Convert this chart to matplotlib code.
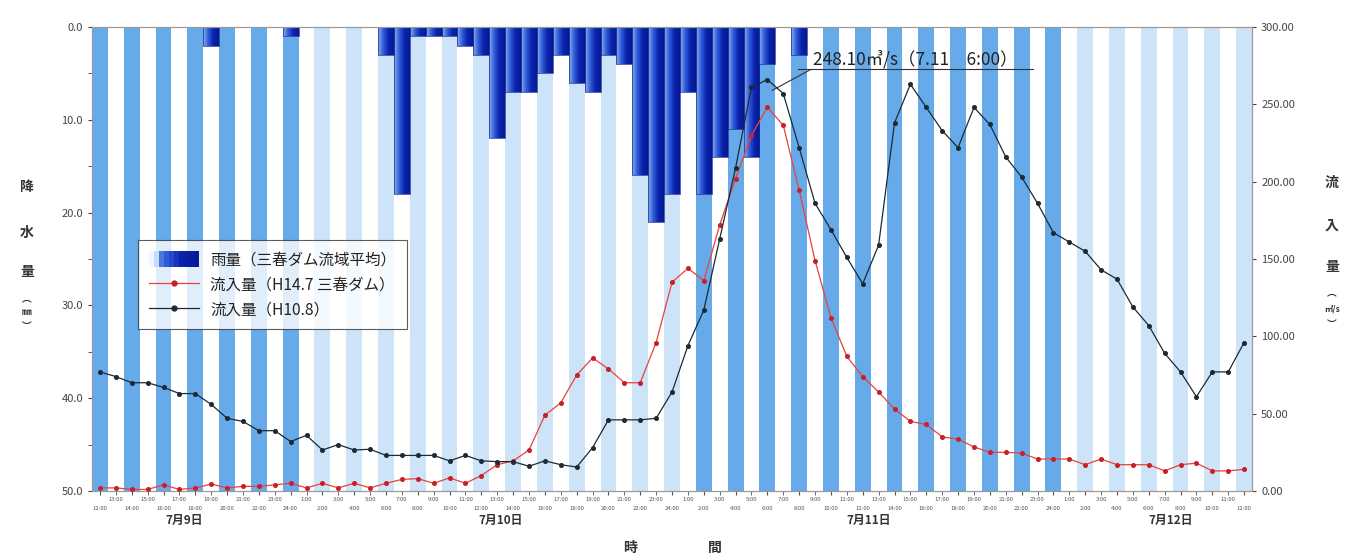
import numpy as np
import matplotlib
matplotlib.use('Agg')
import matplotlib.pyplot as plt
from matplotlib.colors import LinearSegmentedColormap
from matplotlib.patches import Rectangle
from matplotlib.lines import Line2D
from matplotlib.legend_handler import HandlerTuple

plt.rcParams['font.family'] = ['Noto Sans CJK JP', 'DejaVu Sans']

# hourly data, 7/9 12:00 -> 7/12 12:00
hours = np.arange(73)
hour_labels = [f"{(12 + i) % 24 or 24}:00" for i in hours]
day_names = ['7月9日', '7月10日', '7月11日', '7月12日']
day_pos = [5.3, 25.2, 48.4, 67.4]

# rain (mm)
rain = [0, 0, 0, 0, 0, 0, 0, 2, 0, 0, 0, 0, 1, 0, 0, 0, 0, 0, 3, 18,
        1, 1, 1, 2, 3, 12, 7, 7, 5, 3, 6, 7, 3, 4, 16, 21, 18, 7, 18, 14,
        11, 14, 4, 0, 3, 0, 0, 0, 0, 0, 0, 0, 0, 0, 0, 0, 0, 0, 0, 0,
        0, 0, 0, 0, 0, 0, 0, 0, 0, 0, 0, 0, 0]

# inflow H14.7 (m3/s)
inflow_h147 = [2, 2, 1, 1, 4, 1, 2, 4.5, 2, 3, 3, 4, 5, 2, 5, 2, 5, 2, 5, 7.5,
               8, 5, 8.5, 5, 10, 17, 19.5, 26.5, 49, 57, 75, 86, 79, 70, 70, 96, 135, 144, 136, 172,
               202, 230, 248.1, 236.5, 194.5, 149, 112, 87, 74, 64, 53, 45, 43, 35, 33.5, 28.5, 25, 25, 24.5, 20.7,
               20.7, 20.7, 17, 20.7, 17, 17, 17, 13, 17, 18, 13, 13, 14]

# inflow H10.8 (m3/s)
inflow_h108 = [77, 74, 70, 70, 67, 63, 63, 56, 47, 45, 39, 39, 32, 36, 26.5, 30, 26.5, 27, 23, 23,
               23, 23, 19.5, 23, 19.5, 19, 19, 16, 19.5, 17, 15.5, 28, 46, 46, 46, 47, 64, 94, 117, 163,
               209, 261, 266, 257, 222, 186, 169, 151, 134, 159, 238, 263, 248, 233, 222, 248, 237, 216, 203, 186,
               167, 161, 155, 143, 137, 119, 107, 89, 77, 61, 77, 77, 96]

peak_idx = 42
peak_text = '248.10㎥/s（7.11　6:00）'

mid_blue = '#66aaea'
light_blue = '#cde3f7'

fig = plt.figure(figsize=(13.45, 5.56), dpi=100)
ax = fig.add_axes([0.0684, 0.1169, 0.8625, 0.8345])

# background stripes (every other hour, shade by day)
stripe_x = hours[::2]
stripe_col = [mid_blue if (i <= 12 or 37 <= i <= 60) else light_blue for i in stripe_x]
ax.bar(stripe_x, 50, width=1.0, color=stripe_col, linewidth=0, zorder=0)

# rain bars with horizontal gradient
cmap = LinearSegmentedColormap.from_list('rain', ['#86aef0', '#2f5bd6', '#0a22ad', '#061a96'])
bars = ax.bar(hours, rain, width=1.0, facecolor='none', edgecolor='#1a2a8c', linewidth=0.5, zorder=3)
grad = np.linspace(0, 1, 32).reshape(1, -1)
for b in bars:
    h = b.get_height()
    if h <= 0:
        continue
    x0 = b.get_x()
    ax.imshow(grad, cmap=cmap, extent=[x0, x0 + b.get_width(), h, 0],
              aspect='auto', interpolation='bicubic', zorder=2)

ax.set_xlim(-0.5, 72.5)
ax.set_ylim(50, 0)
ax.set_yticks(np.arange(0, 51, 10), [f"{v:.1f}" for v in np.arange(0, 51, 10)])
ax.set_yticks(np.arange(5, 50, 10), minor=True)
ax.tick_params(axis='y', which='both', labelsize=8, colors='#444', length=3)

ax.set_xticks(hours[::2], [hour_labels[i] for i in hours[::2]])
ax.set_xticks(hours[1::2], [hour_labels[i] for i in hours[1::2]], minor=True)
ax.tick_params(axis='x', which='major', labelsize=4.3, pad=8, length=3, colors='#555')
ax.tick_params(axis='x', which='minor', labelsize=4.3, pad=1.5, length=3, colors='#555')

for s in ax.spines.values():
    s.set_color('#9a9a9a')
    s.set_linewidth(0.8)

for name, p in zip(day_names, day_pos):
    ax.text(p, -0.064, name, transform=ax.get_xaxis_transform(), ha='center', va='center',
            fontsize=8.5, color='#333', fontweight='bold')

# inflow lines
ax2 = ax.twinx()
ax2.plot(hours, inflow_h147, color='#e8423a', lw=0.9, marker='o', ms=2.6,
         mfc='#c8202a', mec='#c8202a', zorder=4)
ax2.plot(hours, inflow_h108, color='#1d2a33', lw=0.9, marker='o', ms=2.6,
         mfc='#1d2a33', mec='#1d2a33', zorder=4)
ax2.set_ylim(0, 300)
ax2.set_yticks(np.arange(0, 301, 50), [f"{v:.2f}" for v in np.arange(0, 301, 50)])
ax2.tick_params(axis='y', labelsize=8, colors='#444', length=3)
for s in ax2.spines.values():
    s.set_color('#9a9a9a')
    s.set_linewidth(0.8)

# peak annotation
ax2.annotate(peak_text, xy=(peak_idx + 0.3, 259), xytext=(44.9, 273.5),
             fontsize=12.5, color='#222', va='bottom', ha='left',
             arrowprops=dict(arrowstyle='-', color='#333', lw=0.8, shrinkA=0, shrinkB=0,
                             relpos=(0, 0)))
ax2.plot([43.9, 58.7], [273, 273], color='#333', lw=0.8)

# legend
grad_cols = cmap(np.linspace(0, 1, 10))
grad_cols[0] = (0.93, 0.96, 1.0, 1.0)
grad_cols[1] = (0.78, 0.86, 0.98, 1.0)
rain_handle = tuple(Rectangle((0, 0), 1, 1, facecolor=c, edgecolor='none') for c in grad_cols)
red_handle = Line2D([], [], color='#e8423a', lw=0.9, marker='o', ms=3.5, mfc='#c8202a', mec='#c8202a')
blk_handle = Line2D([], [], color='#1d2a33', lw=0.9, marker='o', ms=3.5, mfc='#1d2a33', mec='#1d2a33')
leg = ax2.legend([rain_handle, red_handle, blk_handle],
                 ['雨量（三春ダム流域平均）', '流入量（H14.7 三春ダム）', '流入量（H10.8）'],
                 handler_map={tuple: HandlerTuple(ndivide=None, pad=0)},
                 loc='upper left', bbox_to_anchor=(0.04, 0.54), frameon=True, fancybox=False,
                 edgecolor='#333', fontsize=11.2, handlelength=3.2, handleheight=1.2,
                 handletextpad=0.7, borderpad=0.7, labelspacing=0.5, borderaxespad=0)
leg.get_frame().set_linewidth(0.8)
for t in leg.get_texts():
    t.set_color('#222')

# axis titles (vertical Japanese)
for ch, y, fs in [('降', 187, 10), ('水', 233, 10), ('量', 272, 10),
                  ('︵', 298, 7), ('㎜', 312, 7), ('︶', 326, 7)]:
    fig.text(27 / 1345, 1 - y / 556, ch, ha='center', va='center', fontsize=fs,
             fontweight='bold', color='#333')
for ch, y, fs in [('流', 183, 10), ('入', 226, 10), ('量', 267, 10),
                  ('︵', 292, 7), ('㎥/s', 309, 6), ('︶', 324, 7)]:
    fig.text(1332 / 1345, 1 - y / 556, ch, ha='center', va='center', fontsize=fs,
             fontweight='bold', color='#333')
fig.text(630 / 1345, 1 - 548 / 556, '時', ha='center', va='center', fontsize=10,
         fontweight='bold', color='#333')
fig.text(715 / 1345, 1 - 548 / 556, '間', ha='center', va='center', fontsize=10,
         fontweight='bold', color='#333')

fig.savefig('out.png', dpi=100)
